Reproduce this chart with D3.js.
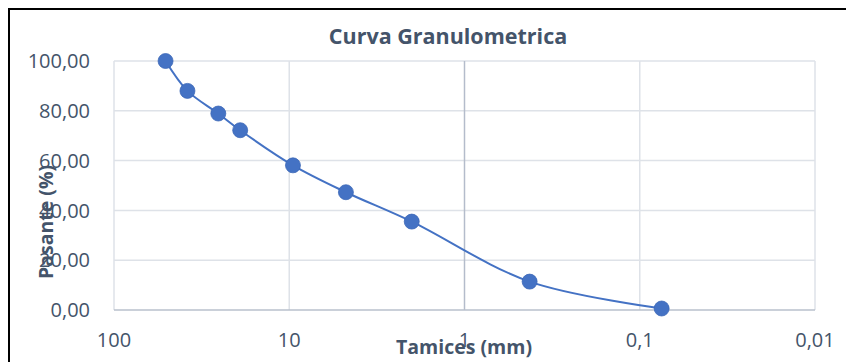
<!DOCTYPE html>
<html lang="es">
<head>
  <meta charset="UTF-8" />
  <title>Curva Granulometrica</title>
  <style>
    body { margin: 0; padding: 0; background: #fff; overflow: hidden; }
    #chart { display: block; }
  </style>
  <script src="https://d3js.org/d3.v7.min.js"></script>
</head>
<body>
<svg id="chart" width="846" height="362"></svg>
<script>
// datos
const tamices = [50.8, 38.1, 25.4, 19.05, 9.525, 4.75, 2.0, 0.425, 0.075];   // mm
const pasante = [100.0, 88.0, 78.9, 72.2, 58.1, 47.3, 35.5, 11.4, 0.6];    // %
const xTicks = [100, 10, 1, 0.1, 0.01];
const yTicks = [0, 20, 40, 60, 80, 100];

const W = 846, H = 362;
const margin = {top: 61, right: 31, bottom: 52, left: 114};
const textColor = "#44546A";
const serieColor = "#4472C4";

const es = d3.formatLocale({decimal: ",", thousands: ".", grouping: [3], currency: ["", "€"]});
const fmtY = es.format(".2f");
const fmtX = d => es.format("~g")(d);

const svg = d3.select("#chart");

const x = d3.scaleLog()
  .domain([100, 0.01])
  .range([margin.left, W - margin.right]);

const y = d3.scaleLinear()
  .domain([0, 100])
  .range([H - margin.bottom, margin.top]);

// marco del gráfico
svg.append("path")
  .attr("d", `M9,${H} V9 H${W}`)
  .attr("fill", "none")
  .attr("stroke", "#000")
  .attr("stroke-width", 2);

// cuadrícula horizontal
svg.append("g")
  .selectAll("line")
  .data(yTicks.filter(d => d > 0))
  .join("line")
  .attr("x1", x.range()[0]).attr("x2", x.range()[1])
  .attr("y1", d => y(d)).attr("y2", d => y(d))
  .attr("stroke", "#DEE2E8")
  .attr("stroke-width", 1.5);

// cuadrícula vertical
svg.append("g")
  .selectAll("line")
  .data(xTicks.filter(d => d !== 1))
  .join("line")
  .attr("x1", d => x(d)).attr("x2", d => x(d))
  .attr("y1", y(0)).attr("y2", y(100))
  .attr("stroke", "#DEE2E8")
  .attr("stroke-width", 1.5);

// eje vertical (cruza en 1) y eje horizontal
svg.append("line")
  .attr("x1", x(1)).attr("x2", x(1))
  .attr("y1", y(0)).attr("y2", y(100))
  .attr("stroke", "#B4BCCB")
  .attr("stroke-width", 1.5);

svg.append("line")
  .attr("x1", x.range()[0]).attr("x2", x.range()[1])
  .attr("y1", y(0)).attr("y2", y(0))
  .attr("stroke", "#B9C0CC")
  .attr("stroke-width", 1.5);

// etiquetas eje Y
svg.append("g")
  .selectAll("text")
  .data(yTicks)
  .join("text")
  .attr("x", 90)
  .attr("y", d => y(d))
  .attr("dy", "0.36em")
  .attr("text-anchor", "end")
  .attr("font-family", "Open Sans")
  .attr("font-size", 20)
  .attr("fill", textColor)
  .text(d => fmtY(d));

// etiquetas eje X
svg.append("g")
  .selectAll("text")
  .data(xTicks)
  .join("text")
  .attr("x", d => x(d))
  .attr("y", 347)
  .attr("text-anchor", "middle")
  .attr("font-family", "Open Sans")
  .attr("font-size", 20)
  .attr("fill", textColor)
  .text(d => fmtX(d));

// título
svg.append("text")
  .attr("x", 448)
  .attr("y", 44)
  .attr("text-anchor", "middle")
  .attr("font-family", "Open Sans")
  .attr("font-weight", "bold")
  .attr("font-size", 21.5)
  .attr("fill", textColor)
  .text("Curva Granulometrica");

// títulos de ejes
svg.append("text")
  .attr("x", 464)
  .attr("y", 354)
  .attr("text-anchor", "middle")
  .attr("font-family", "Open Sans")
  .attr("font-weight", "bold")
  .attr("font-size", 19.5)
  .attr("fill", textColor)
  .text("Tamices (mm)");

svg.append("text")
  .attr("transform", "translate(53,222) rotate(-90)")
  .attr("text-anchor", "middle")
  .attr("font-family", "Open Sans")
  .attr("font-weight", "bold")
  .attr("font-size", 19.5)
  .attr("fill", textColor)
  .text("Pasante (%)");

// serie
const datos = tamices.map((t, i) => ({t, p: pasante[i]}));

const linea = d3.line()
  .x(d => x(d.t))
  .y(d => y(d.p))
  .curve(d3.curveCatmullRom);

svg.append("path")
  .datum(datos)
  .attr("fill", "none")
  .attr("stroke", serieColor)
  .attr("stroke-width", 2)
  .attr("d", linea);

svg.append("g")
  .selectAll("circle")
  .data(datos)
  .join("circle")
  .attr("cx", d => x(d.t))
  .attr("cy", d => y(d.p))
  .attr("r", 7.5)
  .attr("fill", serieColor)
  .attr("stroke", "#3A66B5")
  .attr("stroke-width", 0.75);
</script>
</body>
</html>
